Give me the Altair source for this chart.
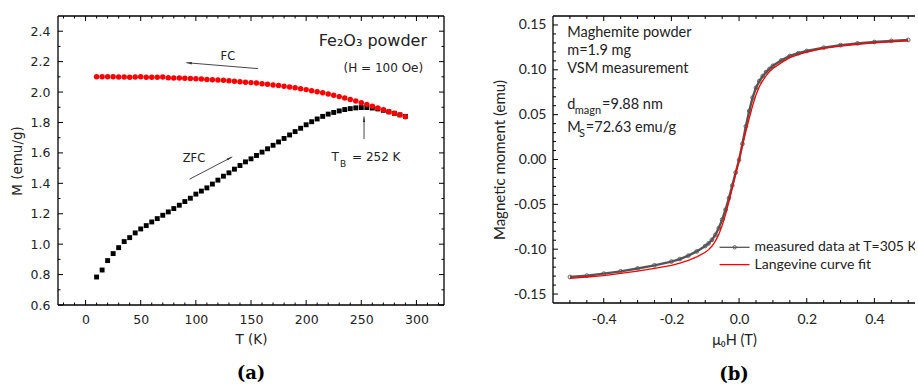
import altair as alt
import pandas as pd

# ---------------- data: panel (a) ----------------
T_K = [10, 15, 20, 25, 30, 35, 40, 45, 50, 55, 60, 65, 70, 75, 80, 85, 90, 95, 100,
       105, 110, 115, 120, 125, 130, 135, 140, 145, 150, 155, 160, 165, 170, 175, 180,
       185, 190, 195, 200, 205, 210, 215, 220, 225, 230, 235, 240, 245, 250, 255, 260,
       265, 270, 275, 280, 285, 290]
M_ZFC = [0.784, 0.830, 0.892, 0.938, 0.977, 1.017, 1.043, 1.074, 1.100, 1.122, 1.146,
         1.168, 1.190, 1.212, 1.234, 1.256, 1.280, 1.302, 1.329, 1.349, 1.370, 1.395,
         1.421, 1.447, 1.469, 1.493, 1.517, 1.541, 1.561, 1.583, 1.605, 1.627, 1.650,
         1.672, 1.695, 1.718, 1.740, 1.762, 1.785, 1.805, 1.823, 1.840, 1.855, 1.866,
         1.876, 1.885, 1.891, 1.896, 1.898, 1.898, 1.895, 1.889, 1.880, 1.870, 1.860,
         1.850, 1.840]
M_FC = [2.100, 2.100, 2.100, 2.100, 2.099, 2.099, 2.098, 2.099, 2.100, 2.098, 2.097,
        2.098, 2.099, 2.094, 2.093, 2.092, 2.091, 2.089, 2.087, 2.086, 2.083, 2.081,
        2.079, 2.077, 2.074, 2.071, 2.068, 2.065, 2.062, 2.059, 2.055, 2.051, 2.047,
        2.043, 2.038, 2.033, 2.028, 2.022, 2.016, 2.009, 2.002, 1.995, 1.987, 1.979,
        1.970, 1.961, 1.951, 1.941, 1.930, 1.919, 1.907, 1.895, 1.883, 1.871, 1.860,
        1.850, 1.838]

# ---------------- data: panel (b) ----------------
H_T = [-0.50, -0.45, -0.40, -0.35, -0.30, -0.25, -0.20, -0.175, -0.15, -0.125, -0.10,
       -0.09, -0.08, -0.07, -0.06, -0.05, -0.04, -0.03, -0.02, -0.01, 0.00, 0.01, 0.02,
       0.03, 0.04, 0.05, 0.06, 0.07, 0.08, 0.09, 0.10, 0.125, 0.15, 0.175, 0.20, 0.25,
       0.30, 0.35, 0.40, 0.45, 0.50]
m_meas = [-0.1310, -0.1295, -0.1273, -0.1247, -0.1215, -0.1180, -0.1138, -0.1110,
          -0.1072, -0.1025, -0.0965, -0.0935, -0.0895, -0.0840, -0.0765, -0.0670,
          -0.0560, -0.0430, -0.0290, -0.0145, -0.0005, 0.0175, 0.0370, 0.0540, 0.0690,
          0.0800, 0.0875, 0.0930, 0.0975, 0.1010, 0.1045, 0.1105, 0.1155, 0.1185,
          0.1210, 0.1247, 0.1275, 0.1295, 0.1310, 0.1323, 0.1333]
m_fit = [-0.1325, -0.1310, -0.1295, -0.1270, -0.1245, -0.1215, -0.1180, -0.1155,
         -0.1125, -0.1085, -0.1035, -0.1005, -0.0965, -0.0910, -0.0835, -0.0735,
         -0.0615, -0.0470, -0.0320, -0.0160, 0.0000, 0.0160, 0.0310, 0.0460, 0.0600,
         0.0720, 0.0815, 0.0880, 0.0935, 0.0980, 0.1015, 0.1080, 0.1135, 0.1170,
         0.1198, 0.1238, 0.1265, 0.1285, 0.1300, 0.1312, 0.1322]

# tick values
xa_major = [0, 50, 100, 150, 200, 250, 300]
xa_minor = [v for v in range(-20, 330, 10) if v % 50 != 0]
ya_major = [0.6, 0.8, 1.0, 1.2, 1.4, 1.6, 1.8, 2.0, 2.2, 2.4]
ya_minor = [0.7, 0.9, 1.1, 1.3, 1.5, 1.7, 1.9, 2.1, 2.3]
xb_major = [-0.4, -0.2, 0.0, 0.2, 0.4]
xb_minor = [-0.5, -0.45, -0.35, -0.3, -0.25, -0.15, -0.1, -0.05, 0.05, 0.1, 0.15,
            0.25, 0.3, 0.35, 0.45, 0.5]
yb_major = [-0.15, -0.10, -0.05, 0.0, 0.05, 0.10, 0.15]
yb_minor = [round(-0.15 + 0.01 * i, 2) for i in range(31) if i % 5 != 0]

# ---------------- layout constants ----------------
WA, HA = 386, 289
WB, HB = 362, 287
xa_dom = [-25, 325]
ya_dom = [0.6, 2.5]
xb_dom = [-0.55, 0.52]
yb_dom = [-0.16, 0.16]

SANS_A = "DejaVu Sans"
SANS_B = "Lato"
INK = "#222222"

xsa = alt.Scale(domain=xa_dom, nice=False, zero=False)
ysa = alt.Scale(domain=ya_dom, nice=False, zero=False)
xsb = alt.Scale(domain=xb_dom, nice=False, zero=False)
ysb = alt.Scale(domain=yb_dom, nice=False, zero=False)

LBL_1F = "(datum.value < 0 ? '-' : '') + format(abs(datum.value), '.1f')"
LBL_2F = "(datum.value < -0.00001 ? '-' : '') + format(abs(datum.value), '.2f')"

AXA_X = alt.Axis(values=xa_major, title="T  (K)", ticks=False, domain=False, grid=False, labelPadding=8,
                 format="d", labelFont=SANS_A, labelFontSize=12.5, labelColor=INK, titleFont=SANS_A,
                 titleFontSize=13.5, titleFontWeight="normal", titleColor=INK, titlePadding=7)
AXA_Y = alt.Axis(values=ya_major, title="M (emu/g)", ticks=False, domain=False, grid=False, labelPadding=8,
                 format=".1f", labelFont=SANS_A, labelFontSize=12.5, labelColor=INK, titleFont=SANS_A,
                 titleFontSize=13.5, titleFontWeight="normal", titleColor=INK, titlePadding=6)
AXB_X = alt.Axis(values=xb_major, title="μ₀H  (T)", ticks=False, domain=False, grid=False, labelPadding=9,
                 labelExpr=LBL_1F, labelFont=SANS_B, labelFontSize=14, labelColor=INK, titleFont=SANS_B,
                 titleFontSize=14.5, titleFontWeight="normal", titleColor=INK, titlePadding=7)
AXB_Y = alt.Axis(values=yb_major, title="Magnetic moment (emu)", ticks=False, domain=False, grid=False,
                 labelPadding=7, labelExpr=LBL_2F, labelFont=SANS_B, labelFontSize=14, labelColor=INK,
                 titleFont=SANS_B, titleFontSize=15, titleFontWeight="normal", titleColor=INK,
                 titlePadding=6)


def X(field, panel):
    if panel == "a":
        return alt.X(field, scale=xsa, axis=AXA_X)
    return alt.X(field, scale=xsb, axis=AXB_X)


def Y(field, panel):
    if panel == "a":
        return alt.Y(field, scale=ysa, axis=AXA_Y)
    return alt.Y(field, scale=ysb, axis=AXB_Y)


def one():
    return pd.DataFrame({"a": [0]})


def border(W, H, sides):
    out = []
    for s in sides:
        if s == "top":
            enc = dict(x=alt.value(0), x2=alt.value(W), y=alt.value(0))
        elif s == "bottom":
            enc = dict(x=alt.value(0), x2=alt.value(W), y=alt.value(H))
        elif s == "left":
            enc = dict(y=alt.value(0), y2=alt.value(H), x=alt.value(0))
        else:
            enc = dict(y=alt.value(0), y2=alt.value(H), x=alt.value(W))
        out.append(alt.Chart(one()).mark_rule(color="black", strokeWidth=1.3).encode(**enc))
    return out


def ticks(values, channel, side, length, W, H, panel):
    df = pd.DataFrame({"v": values})
    if channel == "x":
        enc = dict(x=X("v:Q", panel))
        if side == "bottom":
            enc.update(y=alt.value(H), y2=alt.value(H - length))
        else:
            enc.update(y=alt.value(0), y2=alt.value(length))
    else:
        enc = dict(y=Y("v:Q", panel))
        if side == "left":
            enc.update(x=alt.value(0), x2=alt.value(length))
        else:
            enc.update(x=alt.value(W), x2=alt.value(W - length))
    return alt.Chart(df).mark_rule(color="black", strokeWidth=1).encode(**enc)


# ================= panel (a) =================
dfa = pd.DataFrame({"T": T_K, "ZFC": M_ZFC, "FC": M_FC})

zfc = alt.Chart(dfa).mark_point(shape="square", filled=True, color="black", size=24, opacity=1).encode(
    x=X("T:Q", "a"), y=Y("ZFC:Q", "a"))
fc = alt.Chart(dfa).mark_point(shape="circle", filled=True, color="#ff0000", size=30, opacity=1).encode(
    x=X("T:Q", "a"), y=Y("FC:Q", "a"))

ann_a = pd.DataFrame({
    "t": ["Fe₂O₃ powder", "(H = 100 Oe)", "FC", "ZFC"],
    "x": [211.4, 270.0, 129.1, 98.3],
    "y": [2.338, 2.156, 2.228, 1.563],
    "size": [16, 12, 11.5, 11.5],
    "align": ["left", "center", "center", "center"],
})
txt_a = []
for _, r in ann_a.iterrows():
    txt_a.append(alt.Chart(pd.DataFrame([r])).mark_text(
        font=SANS_A, fontSize=float(r["size"]), color=INK, align=r["align"], baseline="middle").encode(
        x=X("x:Q", "a"), y=Y("y:Q", "a"), text="t:N"))

tb_parts = pd.DataFrame({
    "t": ["T", "B", "= 252 K"],
    "x": [222.9, 230.8, 241.6],
    "y": [1.570, 1.526, 1.570],
    "size": [12, 9, 12],
})
for _, r in tb_parts.iterrows():
    txt_a.append(alt.Chart(pd.DataFrame([r])).mark_text(
        font=SANS_A, fontSize=float(r["size"]), color=INK, align="left", baseline="middle").encode(
        x=X("x:Q", "a"), y=Y("y:Q", "a"), text="t:N"))

arrows = pd.DataFrame({
    "x1": [156.4, 94.4, 252.5], "y1": [2.154, 1.4275, 1.691],
    "x2": [91.3, 133.0, 252.5], "y2": [2.193, 1.574, 1.840],
    "hx": [94.0, 130.6, 252.5], "hy": [2.191, 1.565, 1.820],
    "ang": [274.8, 62.4, 0.0],
})
arr_lines = alt.Chart(arrows).mark_rule(color="#333333", strokeWidth=0.9).encode(
    x=X("x1:Q", "a"), y=Y("y1:Q", "a"), x2="x2:Q", y2="y2:Q")
arr_heads = alt.Chart(arrows).mark_point(shape="M0,-1L0.45,1L-0.45,1Z", filled=True, color="#333333",
                                         size=28, opacity=1).encode(
    x=X("hx:Q", "a"), y=Y("hy:Q", "a"), angle=alt.Angle("ang:Q", scale=None))

ticks_a = [
    ticks(xa_major, "x", "bottom", 5, WA, HA, "a"),
    ticks(xa_minor, "x", "bottom", 2.5, WA, HA, "a"),
    ticks(xa_major, "x", "top", 5, WA, HA, "a"),
    ticks(xa_minor, "x", "top", 2.5, WA, HA, "a"),
    ticks(ya_major, "y", "left", 5, WA, HA, "a"),
    ticks(ya_minor, "y", "left", 2.5, WA, HA, "a"),
    ticks(ya_major, "y", "right", 5, WA, HA, "a"),
    ticks(ya_minor, "y", "right", 2.5, WA, HA, "a"),
]

panel_a = alt.layer(
    zfc, fc, *ticks_a, *border(WA, HA, ["top", "bottom", "left", "right"]),
    arr_lines, arr_heads, *txt_a
).properties(
    width=WA, height=HA,
    title=alt.TitleParams("(a)", orient="bottom", font="DejaVu Serif", fontWeight="bold", fontSize=18,
                          color="black", frame="group", anchor="middle", offset=19),
)

# ================= panel (b) =================
dfb = pd.DataFrame({"H": H_T, "meas": m_meas, "fit": m_fit})

meas_line = alt.Chart(dfb).mark_line(color="#555555", strokeWidth=2.4).encode(
    x=X("H:Q", "b"), y=Y("meas:Q", "b"))
meas_pts = alt.Chart(dfb).mark_point(shape="circle", filled=False, color="#555555", size=14,
                                     strokeWidth=0.9, opacity=1).encode(
    x=X("H:Q", "b"), y=Y("meas:Q", "b"))
fit_line = alt.Chart(dfb).mark_line(color="#ff0000", strokeWidth=1.3).encode(
    x=X("H:Q", "b"), y=Y("fit:Q", "b"))

ann_b = pd.DataFrame({
    "t": ["Maghemite powder", "m=1.9 mg", "VSM measurement", "d", "magn", "=9.88 nm",
          "M", "S", "=72.63 emu/g"],
    "x": [-0.508, -0.508, -0.508, -0.508, -0.4857, -0.405, -0.508, -0.473, -0.453],
    "y": [0.1414, 0.1210, 0.1009, 0.0607, 0.0540, 0.0607, 0.0347, 0.0280, 0.0347],
    "size": [14.5, 14.5, 14.5, 14.5, 11, 14.5, 14.5, 11, 14.5],
})
txt_b = []
for _, r in ann_b.iterrows():
    txt_b.append(alt.Chart(pd.DataFrame([r])).mark_text(
        font=SANS_B, fontSize=float(r["size"]), color=INK, align="left", baseline="middle").encode(
        x=X("x:Q", "b"), y=Y("y:Q", "b"), text="t:N"))

leg = pd.DataFrame({
    "label": ["measured data at T=305 K", "Langevine curve fit"],
    "x1": [-0.0576, -0.0576], "x2": [0.031, 0.031], "xm": [-0.013, -0.013],
    "y": [-0.0979, -0.1172], "xt": [0.0458, 0.0458],
    "col": ["#555555", "#ff0000"],
})
leg_lines = alt.Chart(leg).mark_rule(strokeWidth=1.3).encode(
    x=X("x1:Q", "b"), x2="x2:Q", y=Y("y:Q", "b"), color=alt.Color("col:N", scale=None))
leg_pts = alt.Chart(leg.iloc[:1]).mark_point(shape="circle", filled=False, color="#555555", size=12,
                                             strokeWidth=0.9, opacity=1).encode(
    x=X("xm:Q", "b"), y=Y("y:Q", "b"))
leg_txt = alt.Chart(leg).mark_text(font=SANS_B, fontSize=14, color=INK, align="left", baseline="middle",
                                   clip=True).encode(
    x=X("xt:Q", "b"), y=Y("y:Q", "b"), text="label:N")

ticks_b = [
    ticks(xb_major, "x", "bottom", 5, WB, HB, "b"),
    ticks(xb_minor, "x", "bottom", 3, WB, HB, "b"),
    ticks(xb_major, "x", "top", 5, WB, HB, "b"),
    ticks(xb_minor, "x", "top", 3, WB, HB, "b"),
    ticks(yb_major, "y", "left", 5, WB, HB, "b"),
    ticks(yb_minor, "y", "left", 3, WB, HB, "b"),
]

panel_b = alt.layer(
    meas_line, meas_pts, fit_line, *ticks_b, *border(WB, HB, ["top", "bottom", "left"]),
    leg_lines, leg_pts, leg_txt, *txt_b
).properties(
    width=WB, height=HB,
    title=alt.TitleParams("(b)", orient="bottom", font="DejaVu Serif", fontWeight="bold", fontSize=18,
                          color="black", frame="group", anchor="middle", offset=19),
)

chart = alt.hconcat(panel_a, panel_b, spacing=47).properties(
    padding={"left": 10, "top": 15, "right": 0, "bottom": 0},
    background="white",
).configure_view(stroke=None)

chart.save("out.html", embed_options={"renderer": "svg", "actions": False})
